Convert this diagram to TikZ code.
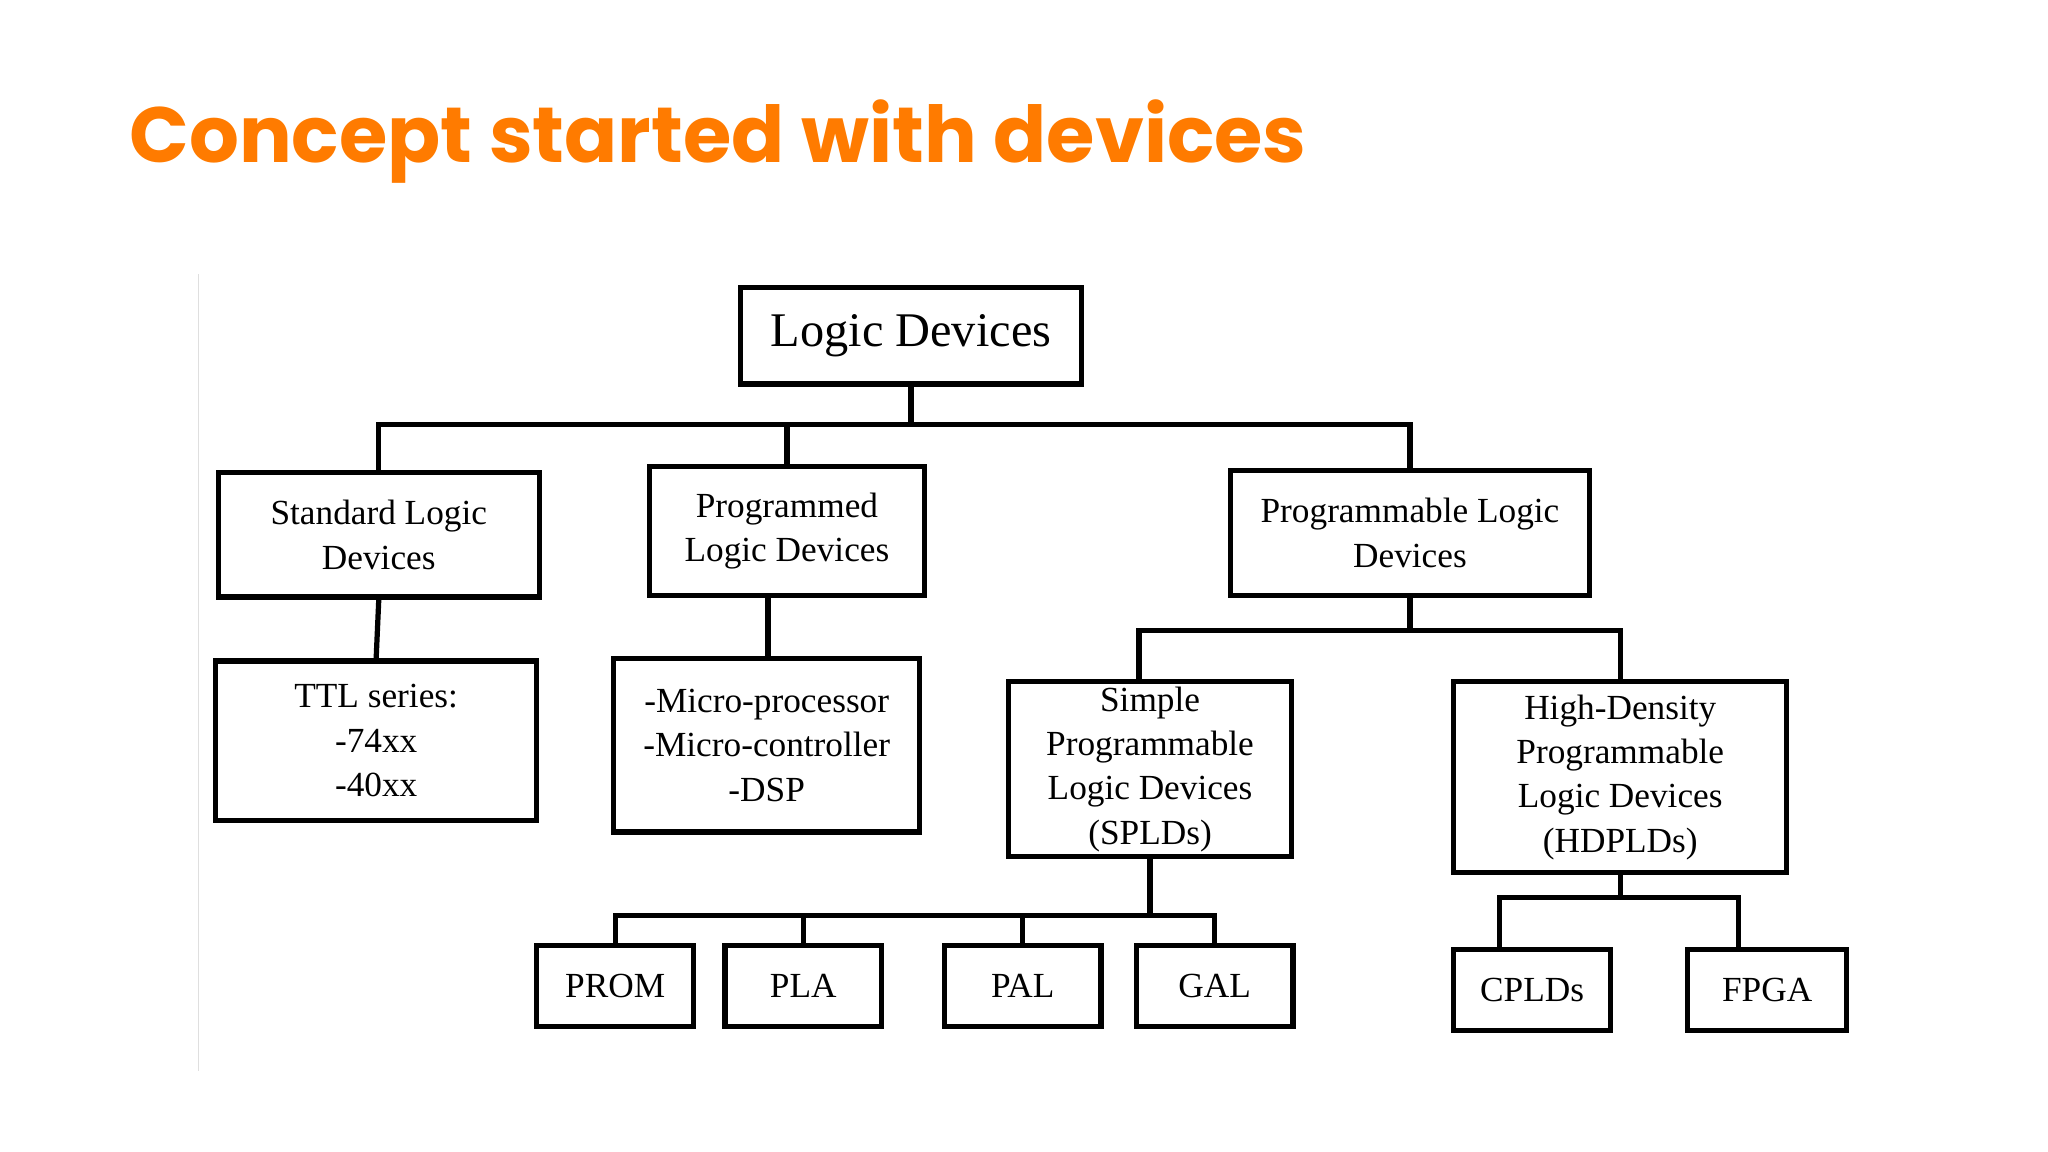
\documentclass[tikz,border=0pt]{standalone}
\usepackage{fontspec}
\setmainfont{Liberation Serif}
\newfontfamily\titlefont{Poppins}
\begin{document}
\begin{tikzpicture}[x=0.5pt,y=-0.5pt,
  bx/.style={draw,line width=2pt,align=center,inner sep=0pt,font=\fontsize{13.5}{17}\selectfont},
  ln/.style={line width=2pt}]
\useasboundingbox (0,0) rectangle (1568,882);
\node[anchor=west,text=orange!85!red!90!yellow,font=\titlefont\bfseries\fontsize{30}{36}\selectfont] (title) at (92,108) {Concept started with devices};
\coordinate (g1) at (152,210); \coordinate (g2) at (152,820);
\draw[gray!25,line width=0.6pt] (g1) -- (g2);
\newcommand\bx[6]{\node[bx,minimum width={(#4-#2)*0.5pt},minimum height={(#5-#3)*0.5pt}] (#1) at ({(#2+#4)/2},{(#3+#5)/2}) {#6};}
\node[bx,font=\fontsize{18.5}{22}\selectfont,minimum width=130.5pt,minimum height=37pt] (ld) at (697.5,257) {Logic Devices};
\bx{sld}{167}{362}{413}{457}{Standard Logic\\Devices}
\bx{pgd}{497}{357}{708}{456}{Programmed\\Logic Devices}
\bx{pld}{942}{360}{1217}{456}{Programmable Logic\\Devices}
\bx{ttl}{165}{506}{411}{628}{TTL series:\\-74xx\\-40xx}
\bx{mic}{470}{504}{704}{637}{-Micro-processor\\-Micro-controller\\-DSP}
\bx{spl}{772}{522}{989}{656}{Simple\\Programmable\\Logic Devices\\(SPLDs)}
\bx{hdp}{1113}{522}{1368}{668}{High-Density\\Programmable\\Logic Devices\\(HDPLDs)}
\bx{prom}{411}{724}{531}{786}{PROM}
\bx{pla}{555}{724}{675}{786}{PLA}
\bx{pal}{723}{724}{843}{786}{PAL}
\bx{gal}{870}{724}{990}{786}{GAL}
\bx{cpld}{1113}{727}{1233}{789}{CPLDs}
\bx{fpga}{1292}{727}{1414}{789}{FPGA}
\draw[ln] (ld.south) -- ++(0,29) coordinate (j1);
\draw[ln] (sld.north) |- (j1) -| (pld.north);
\draw[ln] (pgd.north) -- (pgd.north |- j1);
\draw[ln] (sld.south) -- (ttl.north);
\draw[ln] (mic.north -| 588,0) -- (pgd.south -| 588,0);
\draw[ln] (pld.south) -- ++(0,25) coordinate (j2);
\draw[ln] (spl.north -| 872,0) |- (j2) -| (hdp.north);
\draw[ln] (spl.south) -- ++(0,43) coordinate (j3);
\draw[ln] (prom.north) |- (j3) -| (gal.north);
\draw[ln] (pla.north) -- (pla.north |- j3);
\draw[ln] (pal.north) -- (pal.north |- j3);
\draw[ln] (hdp.south) -- ++(0,17) coordinate (j4);
\draw[ln] (cpld.north -| 1148,0) |- (j4) -| (fpga.north -| 1331,0);
\end{tikzpicture}
\end{document}
